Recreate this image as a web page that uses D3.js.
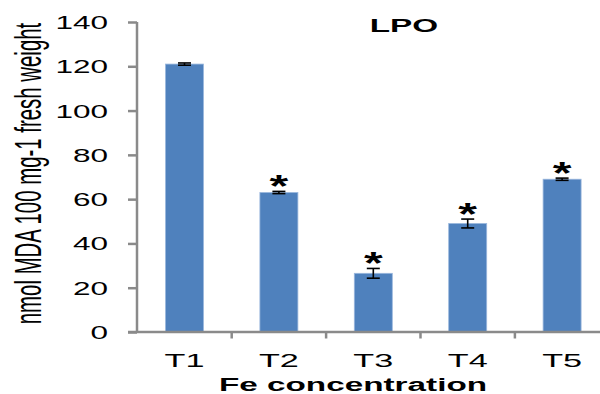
<!DOCTYPE html>
<html><head><meta charset="utf-8">
<script src="https://cdn.jsdelivr.net/npm/d3@7"></script>
<style>body{margin:0;background:#fff}svg{display:block}text{font-family:Arial,"Liberation Sans",sans-serif}</style>
</head><body><svg id="c" width="600" height="394"></svg>
<script>
const categories = ["T1","T2","T3","T4","T5"];
const values = [121, 63, 26.5, 49, 69];
const errors = [0.5, 0.5, 2.2, 2.0, 0.5];
const significant = [false, true, true, true, true];
const yTicks = [0,20,40,60,80,100,120,140];
const title = "LPO";
const xTitle = "Fe concentration";
const yTitle = "nmol MDA 100 mg-1 fresh weight";

const SX = 1.8; // horizontal stretch of the reference's text
const svg = d3.select("#c");
const x = d3.scaleBand().domain(categories).range([137.3, 609.3]).padding(0);
const y = d3.scaleLinear().domain([0,140]).range([332,22]);
const barW = 38;
const axisColor = "#8a8a8a";

// bars
svg.selectAll("rect.bar").data(categories).join("rect")
  .attr("x", d => x(d) + x.bandwidth()/2 - barW/2)
  .attr("y", (d,i) => y(values[i]))
  .attr("width", barW)
  .attr("height", (d,i) => y(0) - y(values[i]))
  .attr("fill", "#4f81bd")
  .attr("stroke", "#9ab7dd").attr("stroke-width", 0.8);

// error bars
const eb = svg.append("g").attr("stroke","#000").attr("stroke-width",1.6);
categories.forEach((c,i) => {
  const cx = x(c) + x.bandwidth()/2;
  const t = y(values[i]+errors[i]), b = y(values[i]-errors[i]);
  eb.append("line").attr("x1",cx).attr("x2",cx).attr("y1",t).attr("y2",b);
  eb.append("line").attr("x1",cx-6.5).attr("x2",cx+6.5).attr("y1",t).attr("y2",t);
  eb.append("line").attr("x1",cx-6.5).attr("x2",cx+6.5).attr("y1",b).attr("y2",b);
  if (significant[i]) {
    svg.append("text")
      .attr("transform", `translate(${cx},${t+6}) scale(1.55,1)`)
      .attr("text-anchor","middle").attr("font-weight","bold").attr("font-size",31)
      .text("*");
  }
});

// y axis
const yAxis = d3.axisLeft(y).tickValues(yTicks).tickSize(9).tickFormat(d3.format("d"));
const gy = svg.append("g").attr("transform","translate(137,0)").call(yAxis);
gy.select(".domain").attr("stroke",axisColor).attr("stroke-width",2.5).attr("d","M0,22V332");
gy.selectAll(".tick line").attr("stroke",axisColor).attr("stroke-width",2.5);
gy.selectAll(".tick text").remove();
gy.selectAll(".tick").append("text")
  .attr("transform", `translate(-29,6.5) scale(${SX},1)`)
  .attr("text-anchor","end").attr("font-size",17.5).attr("fill","#000")
  .text(d => d);

// x axis
const gx = svg.append("g").attr("transform","translate(0,332)");
gx.append("line").attr("x1",128).attr("x2",600).attr("y1",0).attr("y2",0)
  .attr("stroke",axisColor).attr("stroke-width",2.5);
categories.slice(1).forEach(c => {
  gx.append("line").attr("x1",x(c)).attr("x2",x(c)).attr("y1",0).attr("y2",6.5)
    .attr("stroke",axisColor).attr("stroke-width",2.5);
});
categories.forEach(c => {
  svg.append("text")
    .attr("transform", `translate(${x(c)+x.bandwidth()/2},367.3) scale(${SX},1)`)
    .attr("text-anchor","middle").attr("font-size",19).text(c);
});

// titles
svg.append("text").attr("transform",`translate(404,31.7) scale(${SX},1)`)
  .attr("text-anchor","middle").attr("font-weight","bold").attr("font-size",18.5).text(title);
svg.append("text").attr("transform",`translate(353,391) scale(${SX},1)`)
  .attr("text-anchor","middle").attr("font-weight","bold").attr("font-size",18.5).text(xTitle);
svg.append("text").attr("transform",`translate(40.5,173.5) scale(${SX},1) rotate(-90)`)
  .attr("text-anchor","middle").attr("font-size",20.4).text(yTitle);
</script></body></html>
